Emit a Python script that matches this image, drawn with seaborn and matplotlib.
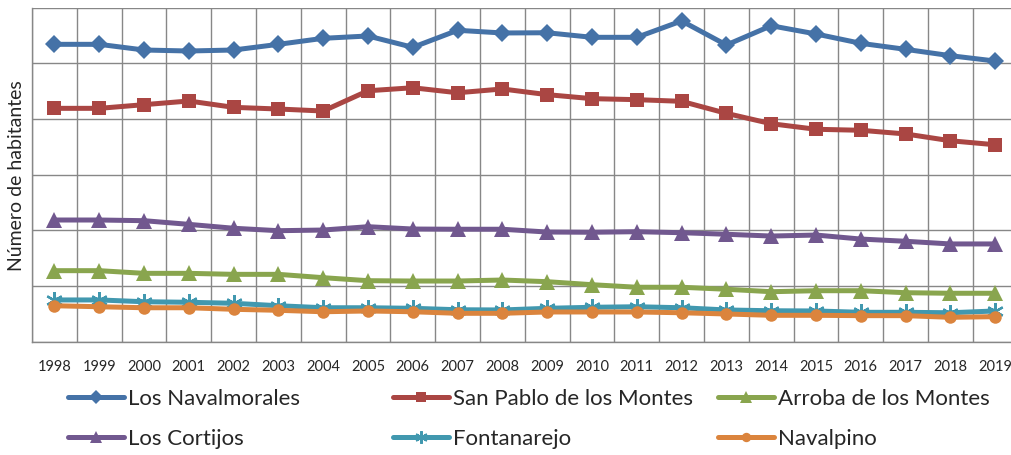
import matplotlib
matplotlib.use("Agg")
import matplotlib.pyplot as plt
import numpy as np
import pandas as pd
import seaborn as sns

years = [str(y) for y in range(1998, 2020)]

navalmorales = [2671, 2671, 2620, 2611, 2620, 2671, 2725, 2746, 2644, 2797, 2773,
                2775, 2734, 2734, 2881, 2665, 2838, 2764, 2680, 2626, 2569, 2521]
san_pablo = [2096, 2096, 2129, 2162, 2105, 2090, 2072, 2254, 2281, 2236, 2270,
             2219, 2183, 2174, 2159, 2051, 1958, 1908, 1899, 1866, 1805, 1769]
arroba = [638, 638, 614, 614, 605, 605, 575, 548, 545, 545, 554,
          539, 512, 489, 489, 471, 449, 458, 458, 440, 435, 435]
cortijos = [1093, 1093, 1087, 1054, 1019, 997, 1003, 1033, 1012, 1010, 1010,
            985, 983, 988, 979, 965, 949, 958, 922, 902, 878, 878]
fontanarejo = [375, 375, 359, 354, 345, 323, 305, 305, 300, 287, 285,
               300, 309, 314, 305, 285, 278, 276, 264, 264, 260, 276]
navalpino = [323, 314, 305, 305, 291, 282, 269, 276, 269, 255, 255,
             267, 267, 267, 260, 249, 237, 237, 234, 234, 219, 225]

names = ["Los Navalmorales", "San Pablo de los Montes", "Arroba de los Montes",
         "Los Cortijos", "Fontanarejo", "Navalpino"]
series = [navalmorales, san_pablo, arroba, cortijos, fontanarejo, navalpino]
colors = ["#4572A7", "#AA4643", "#89A54E", "#71588F", "#4198AF", "#DB843D"]
markers = ["D", "s", "^", "^", (6, 2, 0), "o"]
msizes = [9, 10, 11, 11, 12, 9]

sns.set_style("white")
plt.rcParams["font.family"] = ["Lato", "DejaVu Sans"]

fig = plt.figure(figsize=(10.12, 4.55), dpi=100)
ax = fig.add_axes([32 / 1012, 1 - 341.7 / 455, 985.6 / 1012, 334 / 455])

grid_c = "#878787"
xs = np.arange(len(years))
handles = []
for name, vals, c, m, ms in zip(names, series, colors, markers, msizes):
    df = pd.DataFrame({"x": xs, "v": vals})
    mew = 1.6 if m == (6, 2, 0) else 0
    sns.lineplot(data=df, x="x", y="v", ax=ax, color=c, lw=3.6, marker=m,
                 markersize=ms, markeredgecolor=c, markeredgewidth=mew,
                 markerfacecolor=c, zorder=3)
    handles.append(ax.lines[-1])

ax.set_xlim(-0.5, len(years) - 0.5)
ax.set_ylim(0, 3000)
ax.set_yticks(np.arange(0, 3001, 500))
ax.set_yticklabels([])
ax.set_xticks(xs)
ax.set_xticklabels(years, fontsize=10.5)
ax.set_xticks(np.arange(-0.5, len(years)), minor=True)
ax.grid(False)
ax.yaxis.grid(True, color=grid_c, lw=1.0)
ax.xaxis.grid(True, which="minor", color=grid_c, lw=1.0)
ax.tick_params(axis="both", which="both", length=0)
ax.tick_params(axis="x", pad=13)
ax.set_xlabel("")
ax.set_ylabel("")
for s in ["left", "bottom"]:
    ax.spines[s].set_color(grid_c)
    ax.spines[s].set_linewidth(1.0)
for s in ["top", "right"]:
    ax.spines[s].set_visible(False)

fig.text(17 / 1012, 1 - 176 / 455, "Número de habitantes", rotation=90,
         ha="center", va="center", fontsize=14)

# legend as three columns of two entries each
col_x = [68, 393, 718]
for i, cx in enumerate(col_x):
    hs = [handles[i], handles[i + 3]]
    ls = [names[i], names[i + 3]]
    fig.legend(hs, ls, loc="upper left", bbox_to_anchor=(cx / 1012, 1 - 389 / 455),
               frameon=False, fontsize=16, handlelength=2.5, handletextpad=0.2,
               labelspacing=0.88, borderaxespad=0, borderpad=0, markerscale=0.75)

fig.savefig("out.png", dpi=100)
